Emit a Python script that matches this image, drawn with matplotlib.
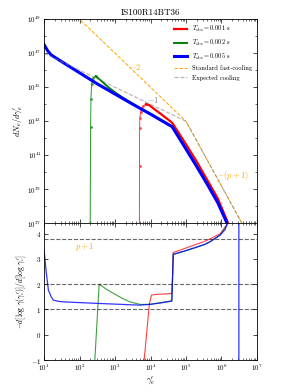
import numpy as np
import matplotlib
matplotlib.use("Agg")
import matplotlib.pyplot as plt
from matplotlib.ticker import LogLocator, NullFormatter

plt.rcParams['font.family'] = 'serif'
plt.rcParams['font.serif'] = ['cmr10', 'DejaVu Serif']
plt.rcParams['mathtext.fontset'] = 'cm'
plt.rcParams['axes.formatter.use_mathtext'] = True

# top panel, log10 values
blue_lx = [1.0, 1.1, 1.2, 1.5, 2.0, 2.5, 3.0, 3.5, 4.0, 4.61, 5.0, 5.3, 5.6, 5.9, 6.16, 6.3]
blue_ly = [47.5, 47.15, 46.9, 46.5, 45.85, 45.2, 44.6, 44.0, 43.42, 42.68, 41.37, 40.35, 39.3, 38.2, 37.0, 36.3]

green_rise_lx = [2.29, 2.30, 2.31, 2.32, 2.34, 2.38, 2.45]
green_rise_ly = [36.0, 37.0, 42.66, 44.3, 45.2, 45.55, 45.65]
green_lx = [2.45, 2.6, 2.8, 3.0, 3.2, 3.5, 4.0, 4.61, 5.0, 5.3, 5.6, 5.9, 6.16, 6.3]
green_ly = [45.65, 45.4, 45.02, 44.7, 44.42, 44.03, 43.44, 42.71, 41.39, 40.37, 39.32, 38.22, 37.02, 36.3]

red_rise_lx = [3.685, 3.69, 3.69, 3.70, 3.72, 3.78, 3.87]
red_rise_ly = [36.0, 40.4, 42.6, 43.2, 43.55, 43.88, 44.0]
red_lx = [3.87, 3.95, 4.1, 4.3, 4.61, 5.0, 5.3, 5.6, 5.9, 6.15, 6.3]
red_ly = [44.0, 43.97, 43.73, 43.42, 42.92, 41.65, 40.64, 39.55, 38.45, 37.2, 36.4]

fast_lx = [1.0, 5.0, 7.0]
fast_ly = [51.0, 43.0, 35.4]
exp_lx = [1.0, 5.0, 7.0]
exp_ly = [47.0, 43.0, 35.4]

# bottom panel: local slope
blue_s_lx = [1.0, 1.05, 1.12, 1.2, 1.26, 1.4, 1.54, 2.0, 2.48, 3.0, 3.5, 3.7, 4.0, 4.3, 4.6,
             4.62, 4.64, 5.0, 5.2, 5.5, 5.68, 5.96, 6.1, 6.15, 6.2, 6.49, 6.49]
blue_s = [3.35, 2.6, 1.77, 1.5, 1.37, 1.32, 1.30, 1.27, 1.24, 1.21, 1.18, 1.17, 1.2, 1.26, 1.33,
          2.2, 3.18, 3.33, 3.42, 3.56, 3.68, 3.94, 4.15, 4.34, 4.6, 20.0, -20.0]

green_s_lx = [2.42, 2.43, 2.55, 2.56, 2.75, 2.95, 3.2, 3.42, 3.7, 3.9, 4.0, 4.3, 4.6,
              4.62, 4.64, 5.0, 5.2, 5.5, 5.68, 5.96, 6.15, 6.2]
green_s = [-1.3, -1.0, 1.96, 2.0, 1.8, 1.64, 1.44, 1.30, 1.20, 1.2, 1.21, 1.27, 1.34,
           2.2, 3.17, 3.32, 3.41, 3.55, 3.67, 3.93, 4.34, 4.6]

red_s_lx = [3.80, 3.82, 3.9, 3.97, 4.03, 4.2, 4.4, 4.6, 4.62, 4.64, 5.0, 5.2, 5.5, 5.68, 5.96, 6.15, 6.2]
red_s = [-1.3, -1.0, 0.2, 1.24, 1.57, 1.60, 1.61, 1.63, 2.3, 3.25, 3.43, 3.53, 3.68, 3.79, 3.99, 4.34, 4.6]

hlines = [1.0, 2.0, 3.8]

tobs = ['0.001', '0.002', '0.005']


def p10(a):
    return 10.0 ** np.array(a)


fig = plt.figure(figsize=(2.94, 3.92), dpi=100)
ax1 = fig.add_axes([0.150, 0.430, 0.724, 0.521])
ax2 = fig.add_axes([0.150, 0.0816, 0.724, 0.3484])

ax1.plot(p10(red_rise_lx), p10(red_rise_ly), '-', color='#ff4040', lw=0.7,
         marker='.', ms=1.8, mec='#ff4040')
ax1.plot(p10(red_lx), p10(red_ly), 'r-', lw=1.6, label=r'$T_{\rm obs}=%s$ s' % tobs[0])
ax1.plot(p10(green_rise_lx), p10(green_rise_ly), '-', color='#2a9a2a', lw=0.7,
         marker='.', ms=1.8, mec='#2a9a2a')
ax1.plot(p10(green_lx), p10(green_ly), 'g-', lw=1.4, label=r'$T_{\rm obs}=%s$ s' % tobs[1])
ax1.plot(p10(blue_lx), p10(blue_ly), 'b-', lw=2.2, label=r'$T_{\rm obs}=%s$ s' % tobs[2])
ax1.plot(p10(fast_lx), p10(fast_ly), '--', color='orange', lw=0.7, label='Standard fast-cooling')
ax1.plot(p10(exp_lx), p10(exp_ly), '--', color='gray', lw=0.8, alpha=0.6, label='Expected cooling')

ax1.text(10 ** 3.56, 10 ** 46.2, r'$-2$', color='orange', fontsize=6, ha='center', va='center')
ax1.text(10 ** 4.07, 10 ** 44.25, r'$-1$', color='gray', fontsize=6, ha='center', va='center')
ax1.text(10 ** 6.32, 10 ** 39.8, r'$-(p+1)$', color='orange', fontsize=6, ha='center', va='center')

ax1.set_xscale('log')
ax1.set_yscale('log')
ax1.set_xlim(1e1, 1e7)
ax1.set_ylim(1e37, 1e49)
ax1.set_yticks([10.0 ** k for k in range(37, 50, 2)])
ax1.yaxis.set_minor_locator(LogLocator(base=10, subs=(1.0,), numticks=30))
ax1.yaxis.set_minor_formatter(NullFormatter())
ax1.xaxis.set_major_formatter(NullFormatter())
ax1.xaxis.set_minor_formatter(NullFormatter())
ax1.set_ylabel(r"$dN_e/d\gamma_e'$", fontsize=6, labelpad=2)
ax1.set_title('IS100R14BT36', fontsize=6.5, pad=3)
ax1.legend(loc='upper right', fontsize=4.6, frameon=False, handlelength=2.0,
           labelspacing=0.55, borderaxespad=0.4)

ax2.plot(p10(red_s_lx), red_s, 'r-', lw=0.8, alpha=0.75)
ax2.plot(p10(green_s_lx), green_s, 'g-', lw=0.8, alpha=0.75)
ax2.plot(p10(blue_s_lx), blue_s, 'b-', lw=0.9, alpha=0.8)
for h in hlines:
    ax2.axhline(h, color='k', ls='--', lw=0.8, alpha=0.6)
ax2.text(10 ** 2.15, 3.47, r'$p+1$', color='orange', fontsize=6, ha='center', va='center')

ax2.set_xscale('log')
ax2.set_xlim(1e1, 1e7)
ax2.set_ylim(-1, 4.4)
ax2.set_yticks([-1, 0, 1, 2, 3, 4])
ax2.set_xlabel(r"$\gamma_e'$", fontsize=6, labelpad=1)
ax2.set_ylabel(r"$-d[\log\,\gamma(\gamma_e')]/d[\log\,\gamma_e']$", fontsize=5.5, labelpad=2)

for ax in (ax1, ax2):
    ax.tick_params(which='both', direction='in', top=True, right=True, labelsize=5, pad=2)
    ax.tick_params(which='major', length=3, width=0.5)
    ax.tick_params(which='minor', length=1.5, width=0.4)
    for s in ax.spines.values():
        s.set_linewidth(0.6)

fig.savefig('out.png', dpi=100)
